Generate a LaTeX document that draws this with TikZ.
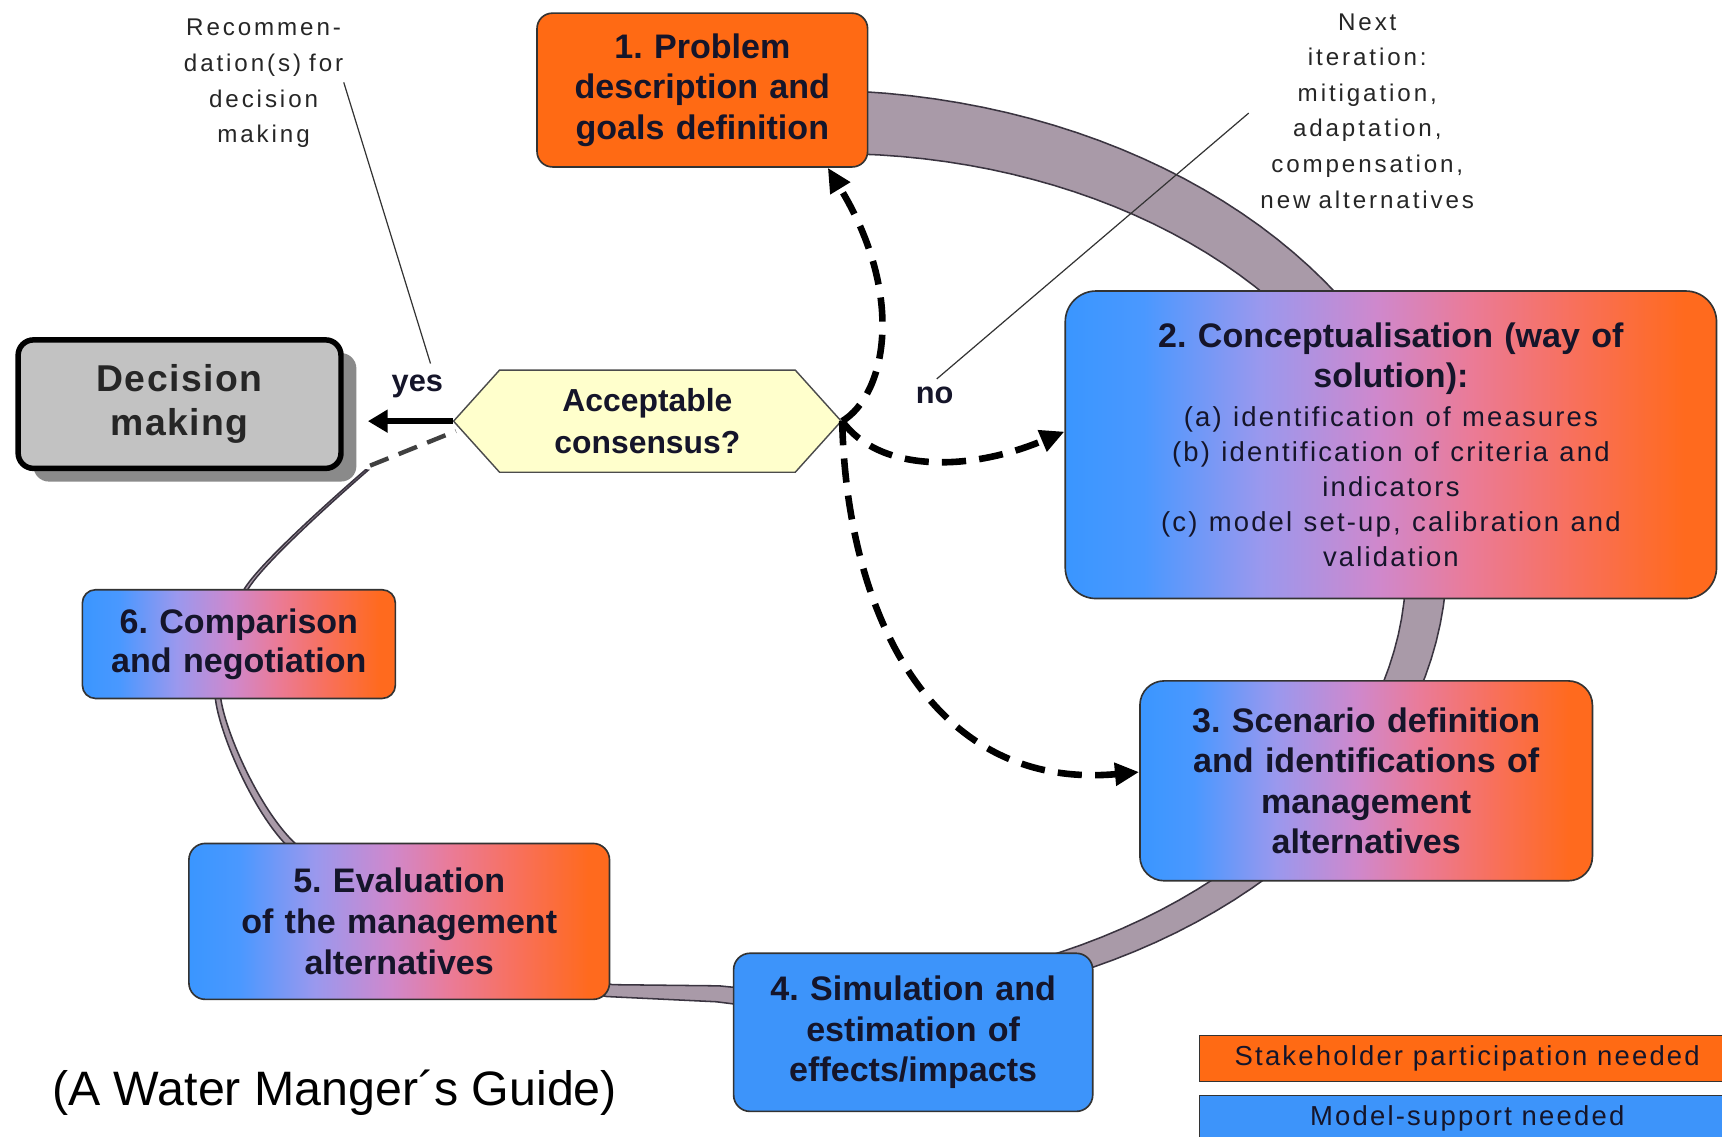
\documentclass[tikz,border=0pt]{standalone}
\usepackage{fontspec}
\setmainfont{Liberation Sans}
\newfontfamily\spacedfam[LetterSpace=8]{Liberation Sans}
\newfontfamily\notefam[LetterSpace=12]{Liberation Sans}
\newfontfamily\decfam[LetterSpace=4]{Liberation Sans}
\usetikzlibrary{arrows.meta,shapes.symbols,shadows,calc}
\definecolor{ringfill}{HTML}{A99AA8}
\definecolor{ringedge}{HTML}{3A3440}
\definecolor{cblue}{HTML}{3D94FA}
\definecolor{corange}{HTML}{FF6A14}
\definecolor{txt}{HTML}{15152A}
\definecolor{hexfill}{HTML}{FFFFCC}
\definecolor{decfill}{HTML}{C2C2C2}
\definecolor{shadowgray}{HTML}{8A8A8A}
\definecolor{gA}{HTML}{3A96FF}
\definecolor{gB}{HTML}{4A98FF}
\definecolor{gC}{HTML}{9A98EE}
\definecolor{gD}{HTML}{CF88CC}
\definecolor{gE}{HTML}{EA7B98}
\definecolor{gF}{HTML}{F8705C}
\definecolor{gG}{HTML}{FF6A1E}
\pgfdeclarehorizontalshading{boxgrad}{100bp}{color(0bp)=(gA); color(25bp)=(gA); color(31bp)=(gB); color(40bp)=(gC); color(49bp)=(gD); color(56bp)=(gE); color(64bp)=(gF); color(72.5bp)=(gG); color(100bp)=(gG)}
\newcommand\bodytxt{\spacedfam\fontsize{25}{32}\selectfont\mdseries}
\frenchspacing
\begin{document}
\begin{tikzpicture}[x=1pt,y=-1pt,
  boxtxt/.style={font=\fontsize{31}{37}\selectfont\bfseries, text=txt, align=center},
  gradbox/.style={draw=black!80, line width=1.5pt, shade, shading=boxgrad, inner sep=0pt, boxtxt},
  solidbox/.style={draw=black!80, line width=1.5pt, inner sep=0pt, boxtxt},
  dasharrow/.style={line width=6pt, dash pattern=on 22pt off 12pt, -{Triangle[length=22pt,width=20pt]}},
  pointer/.style={line width=1.1pt, black!80},
  notetxt/.style={font=\notefam\fontsize{22}{32.4}\selectfont, text=black!85, align=center},
  legbox/.style={draw=black!80, line width=1.3pt, minimum width=488pt, minimum height=42pt, inner sep=0pt, font=\spacedfam\fontsize{25}{30}\selectfont, text=txt}
  ]
\useasboundingbox (0,0) rectangle (1568,1035);
\fill[white] (0,0) rectangle (1568,1035);

% ring band (tapering)
\fill[ringfill,draw=ringedge,line width=1.4pt]
  plot[domain=-100:100,samples=90,variable=\t] ({749+(550+30-24*(\t+100)/212)*cos(\t)}, {511+(400+30-24*(\t+100)/212)*sin(\t)})
  -- plot[smooth] coordinates {(552.3,907.4) (416.6,865.7) (260.9,769.6) (196.6,639.6) (223.2,535.1) (332.8,427.8)}
  -- plot[smooth] coordinates {(335.2,428.2) (226.8,534.9) (201.4,638.4) (267.1,766.4) (423.4,858.4) (557.7,896.6)}
  -- plot[domain=100:-100,samples=90,variable=\t] ({749+(550-30+24*(\t+100)/212)*cos(\t)}, {511+(400-30+24*(\t+100)/212)*sin(\t)})
  -- cycle;
\coordinate (ringend) at (337,424);

% nodes
\node[solidbox, fill=corange, rounded corners=14pt, minimum width=301pt, minimum height=140pt, text width=290pt] (b1) at (639.5,82) {1. Problem\\ description and\\ goals definition};

\node[gradbox, rounded corners=28pt, minimum width=593pt, minimum height=280pt, text width=570pt] (b2) at (1266.5,405)
  {2. Conceptualisation (way of\\ solution):\\[3pt] \bodytxt (a) identification of measures\\ (b) identification of criteria and\\ indicators\\ (c) model set-up, calibration and\\ validation\par};

\node[gradbox, rounded corners=22pt, minimum width=412pt, minimum height=182pt, text width=395pt] (b3) at (1244,711) {3. Scenario definition\\ and identifications of\\ management\\ alternatives};

\node[solidbox, fill=cblue, rounded corners=15pt, minimum width=327pt, minimum height=144pt, text width=315pt] (b4) at (831.5,940) {4. Simulation and\\ estimation of\\ effects/impacts};

\node[gradbox, rounded corners=15pt, minimum width=383pt, minimum height=142pt, text width=370pt] (b5) at (363.5,839) {5. Evaluation\\ of the management\\ alternatives};

\node[gradbox, rounded corners=12pt, minimum width=285pt, minimum height=99pt, text width=275pt, font=\fontsize{31}{35}\selectfont\bfseries] (b6) at (217.5,586.5) {6. Comparison\\ and negotiation};

\node[draw=black, line width=5pt, fill=decfill, rounded corners=14pt, minimum width=294pt, minimum height=117pt, inner sep=0pt,
  drop shadow={shadow xshift=14pt, shadow yshift=-12pt, fill=shadowgray, opacity=1},
  font=\decfam\fontsize{34}{40}\selectfont\bfseries, text=black!85, align=center, text width=280pt] (dec) at (163.5,368) {Decision\\ making};

\node[signal, signal to=east and west, signal pointer angle=96, draw=black!70, line width=1.3pt, fill=hexfill,
  minimum width=353pt, minimum height=93pt, inner sep=0pt, font=\fontsize{29}{38}\selectfont\bfseries,
  align=center, text width=250pt, text=txt] (hex) at (589.5,383.5) {Acceptable\\ consensus?};

\node[font=\fontsize{28}{30}\selectfont\bfseries, text=txt] (yes) at (380,352) {yes};
\node[font=\fontsize{28}{30}\selectfont\bfseries, text=txt] (no) at (851,360) {no};

\node[notetxt, text width=200pt] (rec) at (240,76) {Recommen-\\ dation(s) for\\ decision\\ making};
\node[notetxt, text width=260pt] (nxt) at (1245,101) {Next\\ iteration:\\ mitigation,\\ adaptation,\\ compensation,\\ new alternatives};

\node[legbox, fill=corange] (leg1) at (1336,964) {Stakeholder participation needed};
\node[legbox, fill=cblue] (leg2) at (1336,1018.5) {Model-support needed};

\node[font=\fontsize{44}{50}\selectfont, anchor=west, text=black] (cite) at (44,995) {(A Water Manger´s Guide)};

% connectors
\coordinate (recA) at (313,75);
\coordinate (recB) at (392,331);
\draw[pointer] (recA) -- (recB);
\coordinate (nxtA) at (1137,103);
\coordinate (nxtB) at (853,345);
\draw[pointer] (nxtA) -- (nxtB);

\draw[line width=4pt, dash pattern=on 18pt off 10pt, black!75] (ringend) -- ($(hex.west)+(3,9)$);
\draw[line width=5pt, -{Triangle[length=18pt,width=20pt]}] (hex.west) -- ($(dec.east |- hex.west)+(22,0)$);

\draw[dasharrow] (hex.east) .. controls +(39,-23.5) and +(72,118) .. ($(b1.south east)+(-37,0)$);
\draw[dasharrow] (hex.east) .. controls +(34,46.5) and +(-88,37) .. ($(b2.west)+(0,-12)$);
\draw[dasharrow] (hex.east) .. controls +(4,176.5) and +(-188,17) .. ($(b3.west)+(0,-8)$);
\end{tikzpicture}
\end{document}
